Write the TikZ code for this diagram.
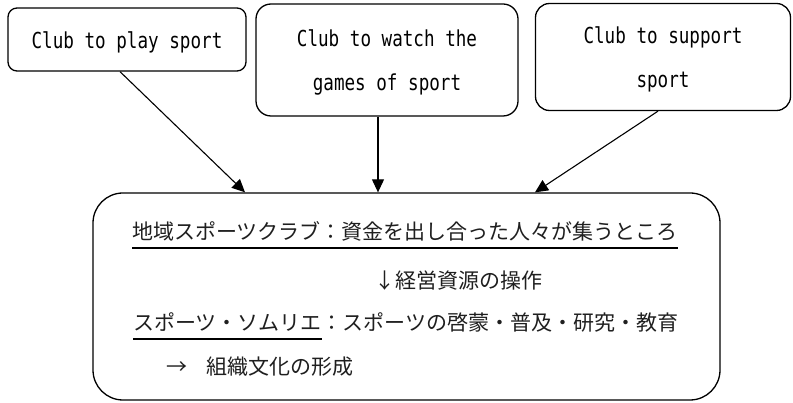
\documentclass[tikz,border=0pt]{standalone}
\usepackage{fontspec}
\usetikzlibrary{calc,arrows.meta}
\newfontfamily\jpfont{Noto Sans CJK JP}
\newfontfamily\enfont[FakeStretch=0.8]{DejaVu Sans Mono}
\newcommand\boxtext[2]{\raisebox{#1}{\begin{tabular}{@{}c@{}}#2\end{tabular}}}
\tikzset{
  box/.style={draw, line width=1.3pt, rounded corners=9pt, inner sep=0pt, align=center,
    font=\enfont\fontsize{22}{44}\selectfont},
  bigbox/.style={draw, line width=1.3pt, rounded corners=30pt, inner sep=0pt},
  jptext/.style={inner sep=0pt, anchor=base west, text=black!88, font=\jpfont\fontsize{21}{25}\selectfont},
  conn/.style={line width=1.1pt, -{Triangle[length=13pt,width=12pt]}},
  uline/.style={line width=1.4pt}
}
\begin{document}
\begin{tikzpicture}[x=1pt,y=-1pt]
\useasboundingbox (0,0) rectangle (793,403);
\node[box, minimum width=238pt, minimum height=63pt] (b1) at (127,39.5) {\boxtext{-4pt}{Club to play sport}};
\node[box, rounded corners=15pt, minimum width=262pt, minimum height=112pt] (b2) at (387,60) {\boxtext{-5pt}{Club to watch the\\games of sport}};
\node[box, rounded corners=14pt, minimum width=255pt, minimum height=107pt] (b3) at (663,57) {\boxtext{-6pt}{Club to support\\sport}};
\node[bigbox, minimum width=627pt, minimum height=207pt] (m) at (406.5,296.5) {};
\draw[conn] ($(b1.south)+(-7,0)$) -- ($(m.north)+(-161.5,0)$);
\draw[conn] ($(b2.south)+(-9,0)$) -- ($(m.north)+(-28.5,0)$);
\draw[conn] ($(b3.south)+(-5,0)$) -- ($(m.north)+(128.5,0)$);
\node[jptext] (l1) at (132,240) {地域スポーツクラブ：資金を出し合った人々が集うところ};
\draw[uline] ($(l1.base west)+(0,8)$) -- ($(l1.base east)+(0,8)$);
\node[jptext] (l2) at (374,289) {↓経営資源の操作};
\node[jptext] (l3a) at (133,331) {スポーツ・ソムリエ};
\node[jptext] (l3b) at (l3a.base east) {：スポーツの啓蒙・普及・研究・教育};
\draw[uline] ($(l3a.base west)+(0,8)$) -- ($(l3a.base east)+(0,8)$);
\node[jptext] (l4) at (166,374) {→\hspace{0.9em}組織文化の形成};
\end{tikzpicture}
\end{document}
